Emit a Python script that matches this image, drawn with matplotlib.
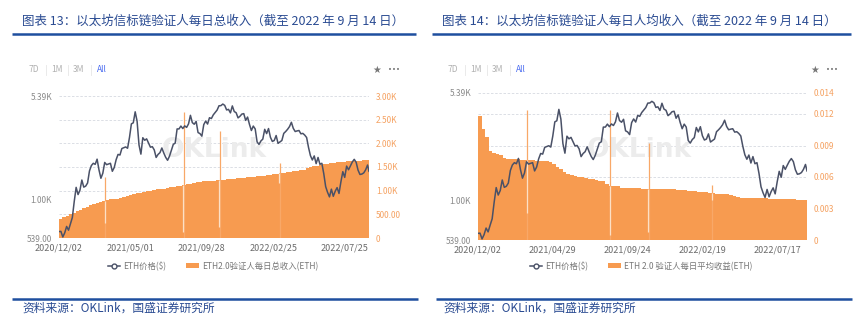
import numpy as np
import matplotlib
matplotlib.use("Agg")
import matplotlib.pyplot as plt
from matplotlib.lines import Line2D
from matplotlib.patches import Patch

plt.rcParams['font.family'] = ['Noto Sans CJK SC', 'DejaVu Sans']

# ---------------- data ----------------
# ETH price ($), every 4 days from 2020/12/02, last point 2022/09/14
eth_price = [
    598, 600, 548, 586, 650, 612, 680, 751,
    975, 1225, 1090, 1170, 1380, 1230, 1250, 1315,
    1600, 1745, 1810, 1780, 1935, 1625, 1420,
    1540, 1835, 1770, 1790, 1810, 1590, 1690,
    1920, 2090, 2070, 2300, 2330, 2360, 2310, 2750,
    3430, 3490, 4170, 3580, 2440, 2100, 2740, 2630,
    2690, 2510, 2350, 2370, 2250, 1990, 2090,
    2150, 2320, 2140, 1995, 1900, 2030, 2230, 2460,
    2510, 3160, 3160, 3310, 3180, 3320, 3240, 3430,
    3940, 3500, 3410, 3570, 2980, 2930, 2810,
    3390, 3590, 3420, 3790, 3740, 3970, 4130, 4290,
    4600, 4610, 4730, 4630, 4300, 4340, 4100,
    4590, 4190, 4110, 3780, 3880, 4020, 4050, 3630,
    3830, 3400, 3080, 3310, 3160, 2560, 2460, 2600,
    2680, 3140, 2930, 3180, 2760, 2580, 2620,
    2840, 2500, 2560, 2620, 2940, 3030, 3140, 3280,
    3520, 3190, 3030, 3060, 3080, 2920, 2940,
    2860, 2750, 2340, 2050, 1910, 2040, 1800, 1990,
    1780, 1810, 1530, 1240, 1130, 1050, 1190,
    1060, 1150, 1220, 1110, 1340, 1580, 1440, 1730,
    1630, 1740, 1850, 1930, 1840, 1620, 1510, 1520,
    1550, 1630, 1760, 1590,
]
price_days = np.append(np.arange(0, 652, 4), 651)

# Weekly ETH2.0 validators' total daily income (ETH), weeks from 2020/12/02
total_income = [
    395, 440, 470, 500, 530, 560, 590, 625, 655, 690,
    715, 735, 760, 790, 812, 820, 825, 830, 838, 860,
    885, 905, 925, 945, 960, 975, 990, 1003, 1014, 1025,
    1035, 1045, 1058, 1068, 1080, 1092, 1105, 1118, 1135, 1150,
    1162, 1175, 1188, 1195, 1200, 1207, 1212, 1218, 1225, 1232,
    1240, 1245, 1252, 1258, 1265, 1272, 1280, 1287, 1295, 1303,
    1312, 1320, 1330, 1340, 1348, 1358, 1367, 1378, 1390, 1400,
    1410, 1420, 1430, 1440, 1470, 1505, 1515, 1530, 1542, 1555,
    1565, 1575, 1585, 1598, 1610, 1615, 1618, 1622, 1628, 1632,
    1636, 1640, 1648,
]
# Weekly average daily income per validator (ETH)
avg_income = [
    0.0118, 0.0106, 0.0098, 0.0085, 0.0083, 0.0082, 0.0081, 0.0078, 0.0077, 0.0077,
    0.0077, 0.0077, 0.0076, 0.0076, 0.0076, 0.0076, 0.0075, 0.0075, 0.0075, 0.0075,
    0.0074, 0.0072, 0.0070, 0.0068, 0.0065, 0.0063, 0.0062, 0.0061, 0.0060, 0.0060,
    0.0059, 0.0058, 0.0058, 0.0057, 0.0056, 0.0056, 0.0053, 0.0051, 0.0051, 0.0051,
    0.0050, 0.0050, 0.0050, 0.0050, 0.0050, 0.0050, 0.0049, 0.0049, 0.0049, 0.0049,
    0.0049, 0.0049, 0.0049, 0.0049, 0.0049, 0.0049, 0.0048, 0.0048, 0.0048, 0.0047,
    0.0047, 0.0047, 0.0046, 0.0046, 0.0046, 0.0045, 0.0045, 0.0044, 0.0044, 0.0044,
    0.0044, 0.0043, 0.0042, 0.0041, 0.0040, 0.0040, 0.0040, 0.0040, 0.0040, 0.0040,
    0.0040, 0.0040, 0.0039, 0.0039, 0.0039, 0.0039, 0.0039, 0.0039, 0.0039, 0.0039,
    0.0038, 0.0038, 0.0038,
]

# single-day anomalies (day index from 2020/12/02)
spike_days = [97, 262, 338, 464]
total_spike = [1295, 2668, 2260, 1577]
total_dip = [317, 130, 230, 1160]
avg_spike = [0.0124, 0.0124, 0.0092, 0.0052]
avg_dip = [0.0026, 0.0005, 0.0008, 0.0038]

left_dates = ['2020/12/02', '2021/05/01', '2021/09/28', '2022/02/25', '2022/07/25']
left_date_days = [0, 150, 300, 450, 600]
right_dates = ['2020/12/02', '2021/04/29', '2021/09/24', '2022/02/19', '2022/07/17']
right_date_days = [0, 148, 296, 444, 592]

price_ticks = [539, 1000, 5390]
price_labels = ['539.00', '1.00K', '5.39K']
total_ticks = [0, 500, 1000, 1500, 2000, 2500, 3000]
total_labels = ['0', '500.00', '1.00K', '1.50K', '2.00K', '2.50K', '3.00K']
avg_ticks = [0, 0.003, 0.006, 0.009, 0.012, 0.014]
avg_labels = ['0', '0.003', '0.006', '0.009', '0.012', '0.014']

# ---------------- style ----------------
W, H = 864, 334
ORANGE = '#F79B50'
ORANGE_TXT = '#F5A262'
LINE_C = '#4A5167'
BLUE = '#1E4F9F'
TITLE_C = '#2A4B92'
GRAY = '#8a8a8a'

fig = plt.figure(figsize=(W / 100, H / 100), dpi=100)
fig.patch.set_facecolor('white')


def fx(x):
    return x / W


def fy(y):
    return 1 - y / H


def panel(x0, y0, x1, y1, bars, spikes, dips, rmax, rticks, rlabels,
          xdays, xlabels, bar_label, leg_cx, wm_xy):
    ax = fig.add_axes([fx(x0), fy(y1), (x1 - x0) / W, (y1 - y0) / H])
    ax2 = ax.twinx()

    edges = np.arange(len(bars)) * 7
    ax.bar(edges, bars, width=7, align='edge', color=ORANGE, linewidth=0, zorder=2)
    ax.vlines(spike_days, 0, spikes, color='#F8A868', lw=0.9, zorder=3)
    base = [bars[d // 7] for d in spike_days]
    ax.vlines([d - 1 for d in spike_days], dips, base, color='#FCE0C6', lw=0.9, zorder=3)
    ax.set_xlim(0, 651)
    ax.set_ylim(0, rmax)
    ax.yaxis.tick_right()
    ax.set_yticks(rticks)
    ax.set_yticklabels(rlabels)
    ax.tick_params(axis='y', which='both', left=False, labelleft=False,
                   right=False, labelright=True, length=0, pad=5,
                   labelsize=6, colors=ORANGE_TXT)
    ax.set_xticks(xdays)
    ax.set_xticklabels(xlabels)
    ax.tick_params(axis='x', length=0, pad=4, labelsize=6.5, colors='#6b6b6b')
    ax.grid(axis='y', ls=(0, (3, 2)), color='#d6d9e0', lw=0.6)
    ax.set_axisbelow(True)
    for s in ax.spines.values():
        s.set_visible(False)
    ax.text(wm_xy[0], wm_xy[1], 'OKLink', transform=ax.transAxes, fontsize=19,
            fontweight='bold', color='#ececec', ha='center', va='center',
            family='DejaVu Sans', zorder=1)

    ax2.plot(price_days, eth_price, color=LINE_C, lw=1.1, zorder=5)
    ax2.set_yscale('log')
    ax2.set_ylim(539, 5390)
    ax2.set_yticks(price_ticks)
    ax2.set_yticklabels(price_labels)
    ax2.yaxis.set_minor_locator(matplotlib.ticker.NullLocator())
    ax2.tick_params(axis='y', which='both', left=False, labelleft=True,
                    right=False, labelright=False, length=0, pad=5,
                    labelsize=6, colors=GRAY)
    for s in ax2.spines.values():
        s.set_visible(False)

    handles = [Line2D([0], [0], color=LINE_C, lw=1.1, marker='o', ms=3.5,
                      mfc='white', mec=LINE_C, mew=1.0),
               Patch(facecolor=ORANGE, edgecolor='none')]
    fig.legend(handles, ['ETH价格($)', bar_label], loc='center',
               bbox_to_anchor=(fx(leg_cx), fy(266)), ncol=2, frameon=False,
               fontsize=6, handlelength=1.5, handleheight=0.55,
               handletextpad=0.35, columnspacing=2.4, labelcolor='#777777')

    # toolbar
    ty = fy(70)
    bx = x0 - 25
    for dx, t, c in [(0, '7D', '#b0b0b0'), (23, '1M', '#b0b0b0'),
                     (45, '3M', '#b0b0b0'), (68, 'All', '#4a6cf0')]:
        fig.text(fx(bx + dx), ty, t, fontsize=6, color=c, ha='center', va='center')
    for dx in (12, 34, 57):
        fig.add_artist(Line2D([fx(bx + dx)] * 2, [fy(65), fy(75)],
                              transform=fig.transFigure, color='#e6e6e6', lw=0.6))
    fig.text(fx(x1 + 8), ty, '★', fontsize=7, color='#777777', ha='center',
             va='center', family='DejaVu Sans')
    fig.text(fx(x1 + 25), ty, '•••', fontsize=5, color='#777777', ha='center',
             va='center', family='DejaVu Sans')


panel(59, 96, 369, 238, total_income, total_spike, total_dip, 3000,
      total_ticks, total_labels, left_date_days, left_dates,
      'ETH2.0验证人每日总收入(ETH)', 213, (0.5, 0.62))
panel(478, 93, 807, 240, avg_income, avg_spike, avg_dip, 0.014,
      avg_ticks, avg_labels, right_date_days, right_dates,
      'ETH 2.0 验证人每日平均收益(ETH)', 641, (0.49, 0.61))

# titles and rules
fig.text(fx(22), fy(21), '图表 13：以太坊信标链验证人每日总收入（截至 2022 年 9 月 14 日）',
         fontsize=9, color=TITLE_C, ha='left', va='center', style='italic')
fig.text(fx(442), fy(21), '图表 14：以太坊信标链验证人每日人均收入（截至 2022 年 9 月 14 日）',
         fontsize=9, color=TITLE_C, ha='left', va='center', style='italic')
for (a, b, y) in [(12, 416, 33.5), (432, 851, 33.5), (12, 418, 299), (436, 852, 299)]:
    fig.add_artist(Line2D([fx(a), fx(b)], [fy(y), fy(y)], transform=fig.transFigure,
                          color=BLUE, lw=1.8, solid_capstyle='butt'))
fig.text(fx(22), fy(308), '资料来源：OKLink，国盛证券研究所', fontsize=8.5, color=TITLE_C,
         ha='left', va='center', style='italic')
fig.text(fx(443), fy(308), '资料来源：OKLink，国盛证券研究所', fontsize=8.5, color=TITLE_C,
         ha='left', va='center', style='italic')

fig.savefig('out.png', dpi=100, facecolor='white')
